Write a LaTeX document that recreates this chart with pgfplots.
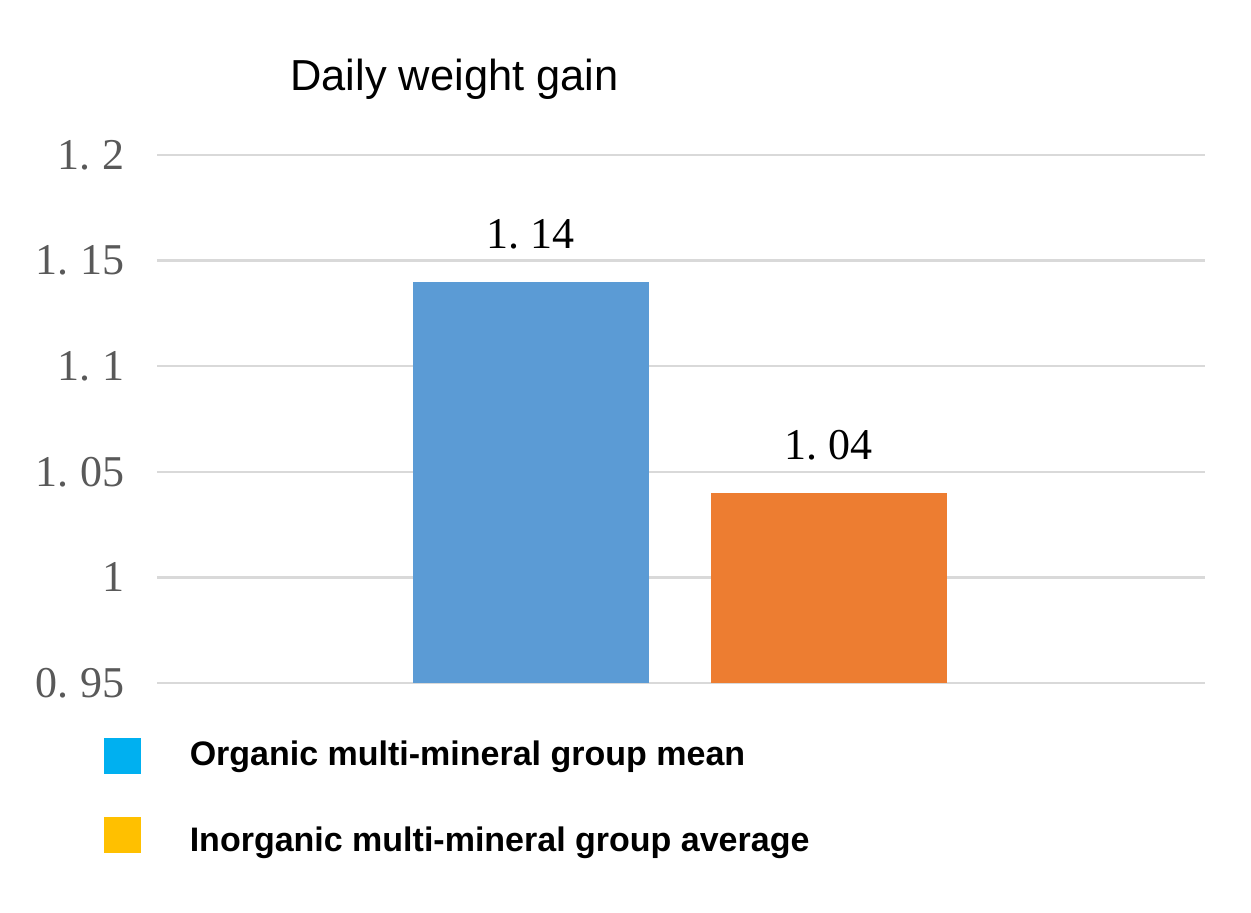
\documentclass[border=0pt]{standalone}
\usepackage{pgfplots}
\pgfplotsset{compat=1.18}
\usepackage{fontspec}
\setmainfont{Liberation Serif}
\newfontfamily\arialfont{Liberation Sans}
\definecolor{barblue}{HTML}{5B9BD5}
\definecolor{barorange}{HTML}{ED7D31}
\definecolor{legcyan}{HTML}{00B0F0}
\definecolor{leggold}{HTML}{FFC000}
\definecolor{gridgray}{HTML}{D9D9D9}
\definecolor{ticklab}{HTML}{595959}
\pgfplotsset{
 sqlegA/.style={legend image code/.code={\fill[##1,draw=none] (0pt,-7.5pt) rectangle (18.25pt,10.5pt); \path (42.5pt,0pt);}},
 sqlegB/.style={legend image code/.code={\fill[##1,draw=none] (0pt,-4pt) rectangle (18.25pt,14pt); \path (42.5pt,0pt);}},
}
\newcommand{\numfont}{\fontsize{22}{22}\selectfont}
\begin{document}
\begin{tikzpicture}
\path[use as bounding box] (0,0) rectangle (625.5pt,456pt);
\begin{axis}[
 at={(78.5pt,114.5pt)}, anchor=south west,
 scale only axis, width=524pt, height=264pt,
 xmin=157, xmax=1205, ymin=0.95, ymax=1.2,
 axis line style={draw=none},
 xtick=\empty,
 ytick={0.95,1,1.05,1.1,1.15,1.2},
 yticklabels={0.\hspace{6pt}95,1,1.\hspace{6pt}05,1.\hspace{6pt}1,1.\hspace{6pt}15,1.\hspace{6pt}2},
 major tick length=0pt,
 ymajorgrids, grid style={draw=gridgray, line width=1.2pt},
 yticklabel style={font=\numfont, text=ticklab, anchor=east, inner sep=0pt, xshift=-16pt},
 title={Daily weight gain},
 every axis title shift=0pt,
 title style={at={(0.1270,1.1231)}, anchor=base west, inner sep=0pt, font=\arialfont\fontsize{21.7}{21.7}\selectfont},
 legend style={at={(-0.0506,-0.1042)}, anchor=north west, draw=none, fill=none, inner sep=0pt, row sep=21.5pt, font=\arialfont\bfseries\fontsize{17}{17}\selectfont, nodes={inner sep=0pt}},
 legend cell align=left,
]
\addplot[ybar, bar width=118pt, bar shift=0pt, fill=barblue, draw=none, forget plot,
  nodes near coords={1.\hspace{6pt}14},
  nodes near coords style={anchor=base, inner sep=0pt, yshift=16.5pt, font=\numfont, text=black}]
  coordinates {(530.5,1.14)};
\addplot[ybar, bar width=118pt, bar shift=0pt, fill=barorange, draw=none, forget plot,
  nodes near coords={1.\hspace{6pt}04},
  nodes near coords style={anchor=base, inner sep=0pt, yshift=16.5pt, font=\numfont, text=black}]
  coordinates {(828.5,1.04)};
\addlegendimage{sqlegA, fill=legcyan}
\addlegendentry{\raisebox{0pt}[8pt][8pt]{Organic multi-mineral group mean}}
\addlegendimage{sqlegB, fill=leggold}
\addlegendentry{\raisebox{0pt}[8pt][8pt]{Inorganic multi-mineral group average}}
\end{axis}
\end{tikzpicture}
\end{document}
